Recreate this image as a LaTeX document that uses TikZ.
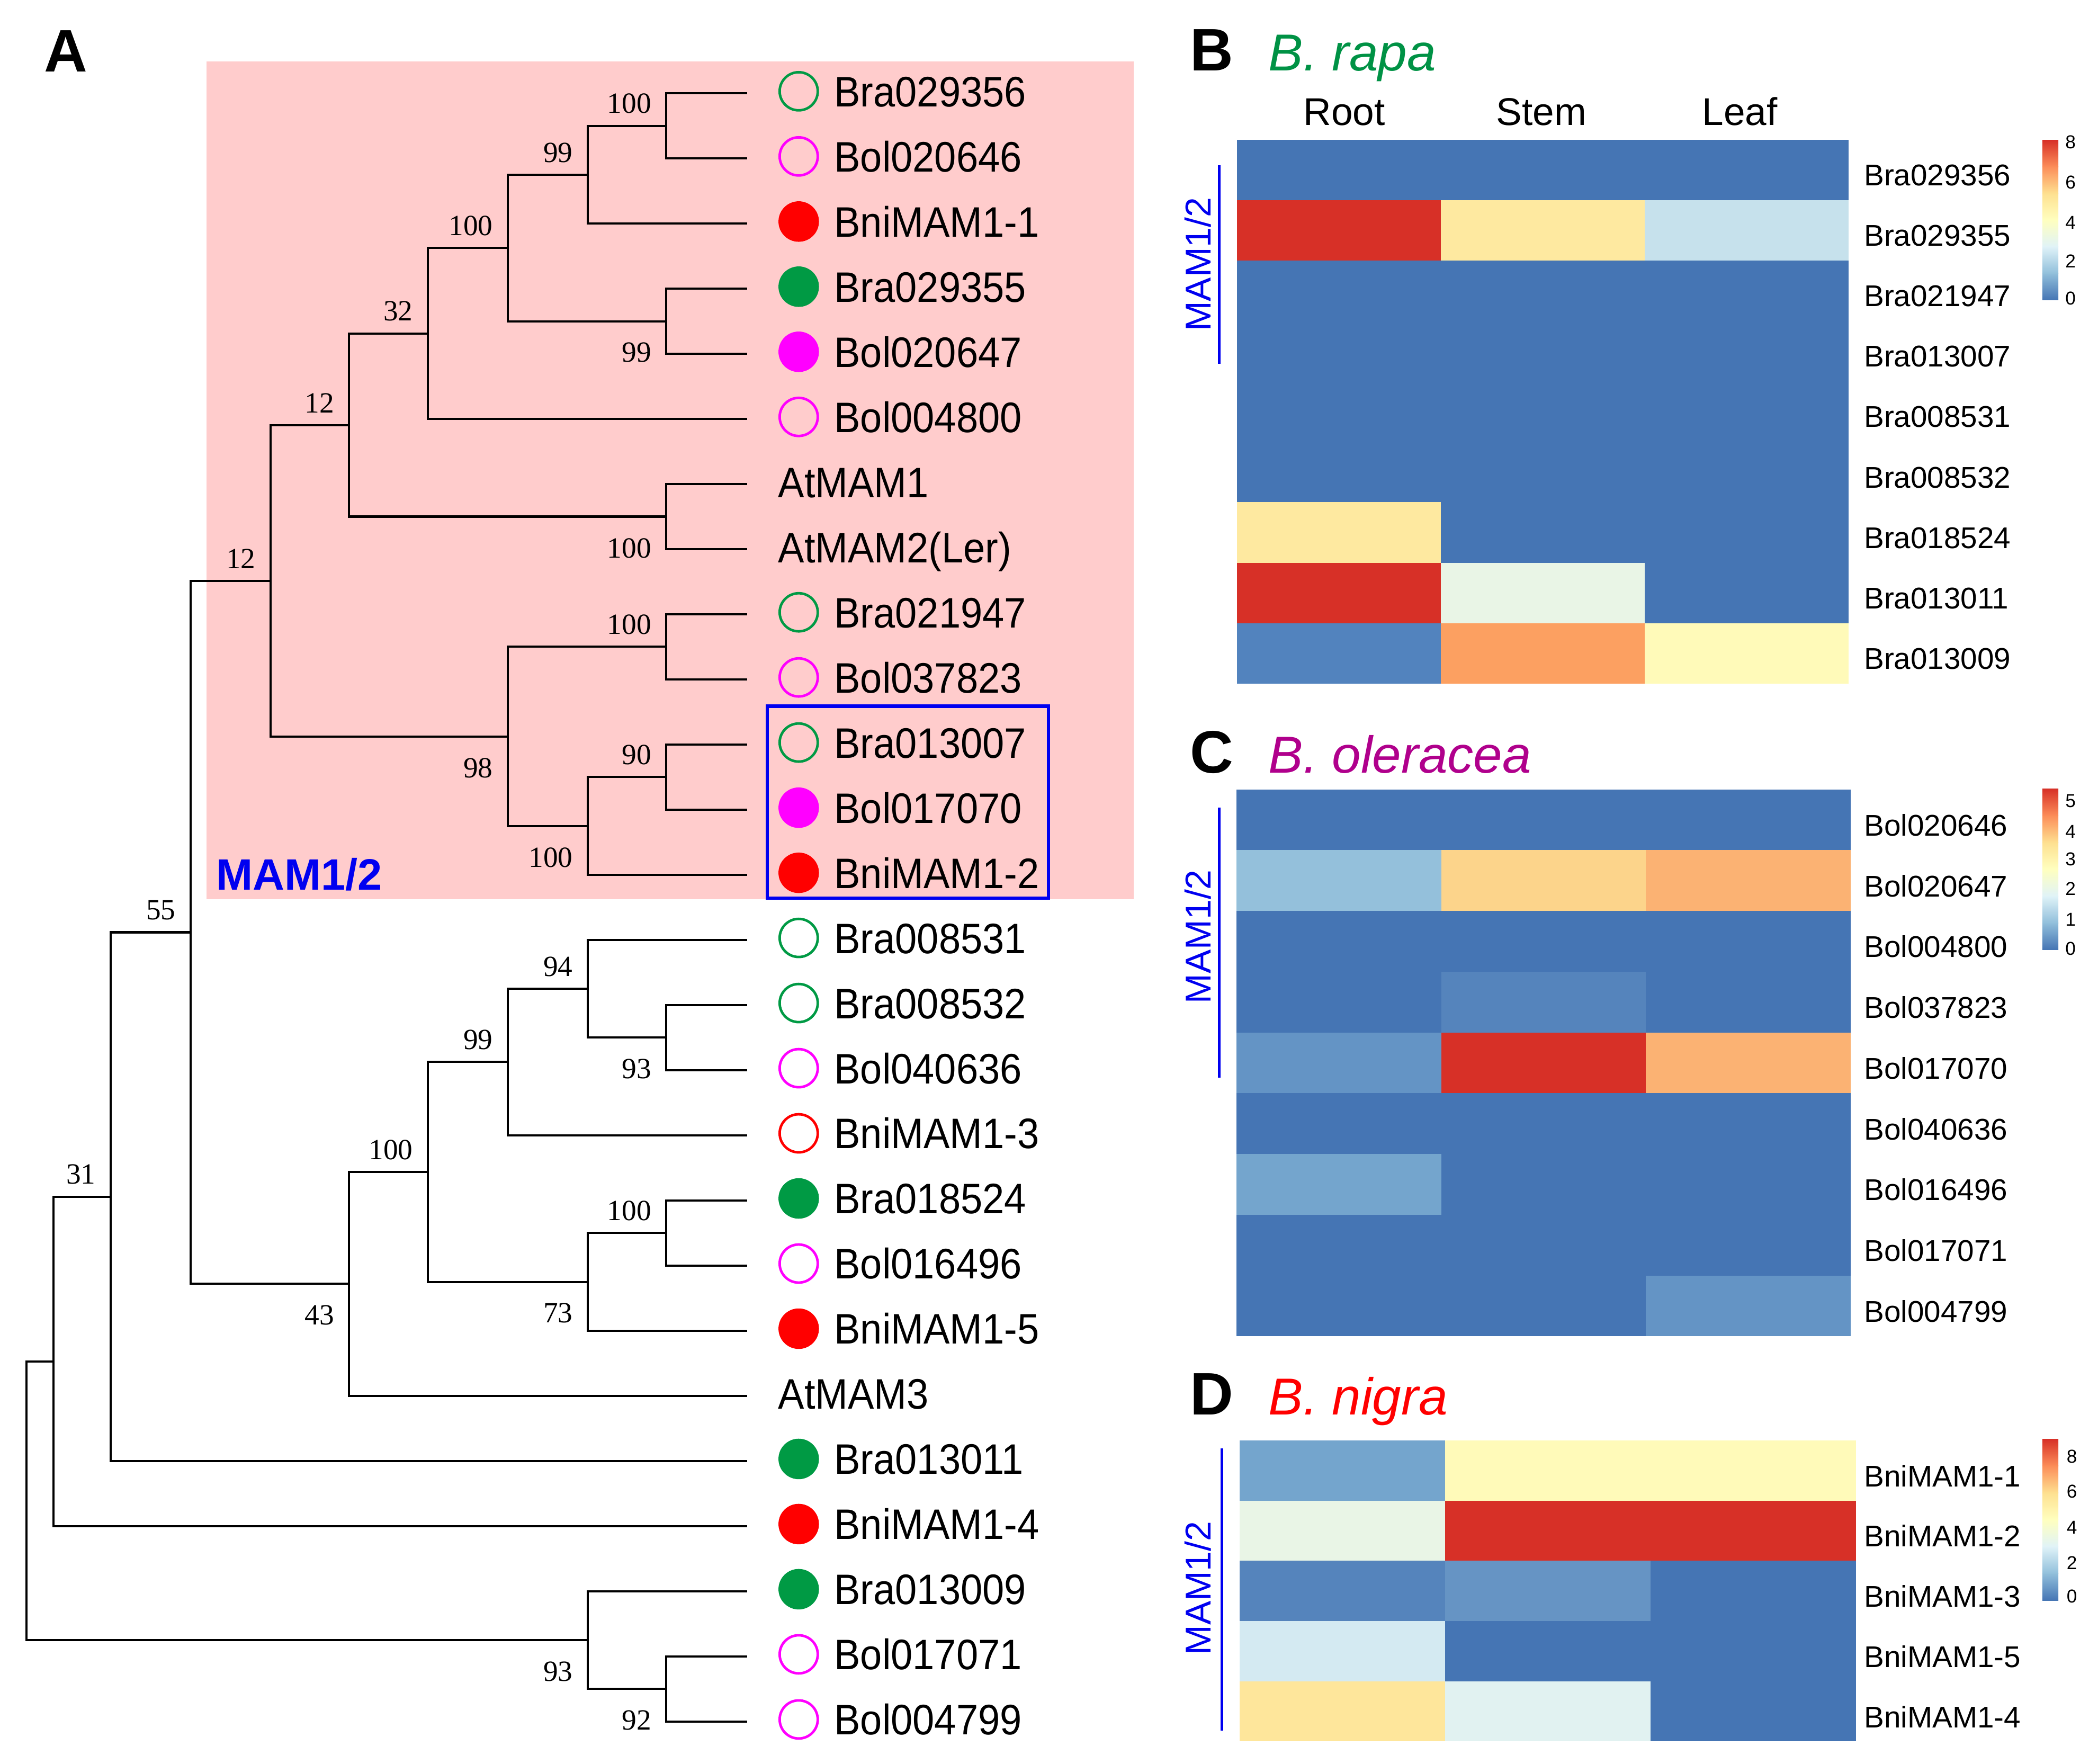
\documentclass[tikz,border=0pt]{standalone}
\usepackage{fontspec}
\setmainfont{Liberation Sans}
\newfontfamily\leaffont[FakeStretch=0.92]{Liberation Sans}
\newfontfamily\bootfont{Liberation Serif}
\usetikzlibrary{positioning}

% tree and marker colours
\definecolor{cgreen}{HTML}{009A44}
\definecolor{cmag}{HTML}{FF00FF}
\definecolor{cred}{HTML}{FF0000}
\definecolor{cblue}{HTML}{0000F0}
\definecolor{cpink}{HTML}{FFCCCC}
\definecolor{spgreen}{HTML}{009245}
\definecolor{spmag}{HTML}{B0008C}
% heatmap colours
\definecolor{hb}{HTML}{4575B4}
\definecolor{hred}{HTML}{D73027}
\definecolor{bb2}{HTML}{FEE9A0}
\definecolor{bc2}{HTML}{C6E1EC}
\definecolor{bc8}{HTML}{E9F5E6}
\definecolor{ba9}{HTML}{5283BE}
\definecolor{bb9}{HTML}{FCA061}
\definecolor{bc9}{HTML}{FFFAB9}
\definecolor{ca2}{HTML}{94C0DB}
\definecolor{cb2}{HTML}{FCD48B}
\definecolor{cc2}{HTML}{FBB273}
\definecolor{cb4}{HTML}{5584BC}
\definecolor{ca5}{HTML}{6494C5}
\definecolor{ca7}{HTML}{74A5CD}
\definecolor{db3}{HTML}{6694C4}
\definecolor{da4}{HTML}{D4EAF2}
\definecolor{da5}{HTML}{FEE69B}
\definecolor{db5}{HTML}{E1F2F1}
% colour key
\definecolor{p0}{HTML}{4575B4}
\definecolor{p1}{HTML}{91BFDB}
\definecolor{p2}{HTML}{E0F3F8}
\definecolor{p3}{HTML}{FFFFBF}
\definecolor{p4}{HTML}{FEE090}
\definecolor{p5}{HTML}{FC8D59}
\definecolor{p6}{HTML}{D73027}

\begin{document}
\begin{tikzpicture}[
    x=1pt, y=-1pt,
    branch/.style={line width=1.6pt, line cap=rect},
    leaf/.style={inner sep=0pt, anchor=base west, font=\leaffont\fontsize{32}{36}\selectfont},
    boot/.style={inner sep=0pt, font=\bootfont\fontsize{22}{24}\selectfont},
    dot/.style={circle, inner sep=0pt},
    mkog/.style={dot, draw=cgreen, line width=1.9pt, minimum size=28.6pt},
    mkom/.style={dot, draw=cmag, line width=1.9pt, minimum size=28.6pt},
    mkor/.style={dot, draw=cred, line width=1.9pt, minimum size=28.6pt},
    mkfg/.style={dot, fill=cgreen, minimum size=30.4pt},
    mkfm/.style={dot, fill=cmag, minimum size=30.4pt},
    mkfr/.style={dot, fill=cred, minimum size=30.4pt},
    panel/.style={inner sep=0pt, anchor=base west, font=\bfseries\fontsize{45}{50}\selectfont},
    species/.style={inner sep=0pt, anchor=base west, font=\itshape\fontsize{39}{44}\selectfont},
    colhead/.style={inner sep=0pt, anchor=base, font=\fontsize{29}{32}\selectfont},
    rowlab/.style={inner sep=0pt, anchor=west, font=\fontsize{22.5}{25}\selectfont},
    grouplab/.style={inner sep=0pt, rotate=90, text=cblue, font=\fontsize{27}{30}\selectfont},
    keylab/.style={inner sep=0pt, anchor=west, font=\fontsize{14}{16}\selectfont}
]
\useasboundingbox (0,0) rectangle (1568,1323.6);

% ---------------- A: tree ----------------
\fill[cpink] (155,46) rectangle (851,675);
\node[panel] (pA) at (33,54) {A};
\node[inner sep=0pt, anchor=base west, text=cblue, font=\bfseries\fontsize{33}{36}\selectfont] (clade) at (162,668) {MAM1/2};

% leaf tips
\foreach \i in {1,...,26}
    \coordinate (t\i) at (560,{70+(\i-1)*48.88});

% internal nodes
\coordinate (cA) at (500,94.44);
\coordinate (cB) at (441,131.10);
\coordinate (cC) at (500,241.08);
\coordinate (cD) at (381,186.09);
\coordinate (cE) at (321,250.25);
\coordinate (cF) at (500,387.72);
\coordinate (cG) at (262,318.99);
\coordinate (cH) at (500,485.48);
\coordinate (cI) at (500,583.24);
\coordinate (cJ) at (441,619.90);
\coordinate (cK) at (381,552.69);
\coordinate (cL) at (203,435.84);
\coordinate (cM) at (500,778.76);
\coordinate (cN) at (441,742.10);
\coordinate (cO) at (381,797.09);
\coordinate (cP) at (500,925.40);
\coordinate (cQ) at (441,962.06);
\coordinate (cR) at (321,879.58);
\coordinate (cS) at (262,963.59);
\coordinate (cT) at (143,699.72);
\coordinate (cU) at (83,898.10);
\coordinate (cV) at (40,1021.73);
\coordinate (cW) at (500,1267.56);
\coordinate (cX) at (441,1230.90);
\coordinate (cRoot) at (20,1126.32);

% branches
\foreach \p/\c in {cA/t1, cA/t2, cB/cA, cB/t3, cC/t4, cC/t5, cD/cB, cD/cC,
                   cE/cD, cE/t6, cF/t7, cF/t8, cG/cE, cG/cF, cH/t9, cH/t10,
                   cI/t11, cI/t12, cJ/cI, cJ/t13, cK/cH, cK/cJ, cL/cG, cL/cK,
                   cM/t15, cM/t16, cN/t14, cN/cM, cO/cN, cO/t17, cP/t18, cP/t19,
                   cQ/cP, cQ/t20, cR/cO, cR/cQ, cS/cR, cS/t21, cT/cL, cT/cS,
                   cU/cT, cU/t22, cV/cU, cV/t23, cW/t25, cW/t26, cX/t24, cX/cW,
                   cRoot/cV, cRoot/cX}
    \draw[branch] (\p) |- (\c);

% bootstrap values
\foreach \n/\v in {cA/100, cB/99, cD/100, cE/32, cG/12, cL/12, cH/100, cI/90,
                   cT/55, cN/94, cO/99, cR/100, cP/100, cU/31}
    \node[boot, above left=9pt and 11pt of \n] (b\n) {\v};
\foreach \n/\v in {cC/99, cF/100, cK/98, cJ/100, cM/93, cQ/73, cS/43, cX/93, cW/92}
    \node[boot, below left=16pt and 11pt of \n] (b\n) {\v};

% leaf markers and names
\foreach \i/\g/\m in {1/Bra029356/og, 2/Bol020646/om, 3/BniMAM1-1/fr, 4/Bra029355/fg,
                      5/Bol020647/fm, 6/Bol004800/om, 9/Bra021947/og, 10/Bol037823/om,
                      11/Bra013007/og, 12/Bol017070/fm, 13/BniMAM1-2/fr, 14/Bra008531/og,
                      15/Bra008532/og, 16/Bol040636/om, 17/BniMAM1-3/or, 18/Bra018524/fg,
                      19/Bol016496/om, 20/BniMAM1-5/fr, 22/Bra013011/fg, 23/BniMAM1-4/fr,
                      24/Bra013009/fg, 25/Bol017071/om, 26/Bol004799/om} {
    \node[mk\m] (m\i) at (599.5,{70+(\i-1)*48.88-1.5}) {};
    \node[leaf] (g\i) at (626,{70+(\i-1)*48.88+10}) {\g};
}
\node[leaf] (g7) at (584,{70+6*48.88+10}) {AtMAM1};
\node[leaf] (g8) at (584,{70+7*48.88+10}) {AtMAM2(Ler)};
\node[leaf] (g21) at (584,{70+20*48.88+10}) {AtMAM3};

% boxed clade
\draw[cblue, line width=2.4pt] (576,530) rectangle (787,674);

% ---------------- B: B. rapa ----------------
\node[panel] (pB) at (893,53) {B};
\node[species, text=spgreen] (sB) at (952,53) {B. rapa};
\node[colhead] (hRoot) at (1009,94) {Root};
\node[colhead] (hStem) at (1157,94) {Stem};
\node[colhead] (hLeaf) at (1306,94) {Leaf};
\foreach \a/\b/\c/\g [count=\r from 0] in {hb/hb/hb/Bra029356, hred/bb2/bc2/Bra029355,
        hb/hb/hb/Bra021947, hb/hb/hb/Bra013007, hb/hb/hb/Bra008531, hb/hb/hb/Bra008532,
        bb2/hb/hb/Bra018524, hred/bc8/hb/Bra013011, ba9/bb9/bc9/Bra013009} {
    \fill[\a] (928.5,{105+\r*45.33}) rectangle ++(153,45.33);
    \fill[\b] (1081.5,{105+\r*45.33}) rectangle ++(153,45.33);
    \fill[\c] (1234.5,{105+\r*45.33}) rectangle ++(153,45.33);
    \node[rowlab] (rB\r) at (1399,{105+(\r+0.5)*45.33+4}) {\g};
}
\draw[cblue, line width=2pt] (915,124) -- (915,273);
\node[grouplab] (gB) at (899,198.5) {MAM1/2};
\foreach \lo/\hi [count=\k from 0] in {p0/p1, p1/p2, p2/p3, p3/p4, p4/p5, p5/p6}
    \shade[bottom color=\lo, top color=\hi] (1533,{225-\k*20+0.3}) rectangle (1545,{225-(\k+1)*20});
\foreach \v/\y in {8/106.7, 6/137, 4/167, 2/196, 0/224}
    \node[keylab] (kB\v) at (1550,\y) {\v};

% ---------------- C: B. oleracea ----------------
\node[panel] (pC) at (893,580) {C};
\node[species, text=spmag] (sC) at (952,580) {B. oleracea};
\foreach \a/\b/\c/\g [count=\r from 0] in {hb/hb/hb/Bol020646, ca2/cb2/cc2/Bol020647,
        hb/hb/hb/Bol004800, hb/cb4/hb/Bol037823, ca5/hred/cc2/Bol017070, hb/hb/hb/Bol040636,
        ca7/hb/hb/Bol016496, hb/hb/hb/Bol017071, hb/hb/ca5/Bol004799} {
    \fill[\a] (928,{592.5+\r*45.6}) rectangle ++(153.7,45.6);
    \fill[\b] (1081.7,{592.5+\r*45.6}) rectangle ++(153.7,45.6);
    \fill[\c] (1235.4,{592.5+\r*45.6}) rectangle ++(153.7,45.6);
    \node[rowlab] (rC\r) at (1399,{592.5+(\r+0.5)*45.6+4}) {\g};
}
\draw[cblue, line width=2pt] (915,606) -- (915,809);
\node[grouplab] (gC) at (899,703) {MAM1/2};
\foreach \lo/\hi [count=\k from 0] in {p0/p1, p1/p2, p2/p3, p3/p4, p4/p5, p5/p6}
    \shade[bottom color=\lo, top color=\hi] (1533,{712.6-\k*20.1+0.3}) rectangle (1545,{712.6-(\k+1)*20.1});
\foreach \v/\y in {5/601, 4/624, 3/645, 2/667, 1/690, 0/712}
    \node[keylab] (kC\v) at (1550,\y) {\v};

% ---------------- D: B. nigra ----------------
\node[panel] (pD) at (893,1062) {D};
\node[species, text=cred] (sD) at (952,1062) {B. nigra};
\foreach \a/\b/\c/\g [count=\r from 0] in {ca7/bc9/bc9/BniMAM1-1, bc8/hred/hred/BniMAM1-2,
        cb4/db3/hb/BniMAM1-3, da4/hb/hb/BniMAM1-5, da5/db5/hb/BniMAM1-4} {
    \fill[\a] (930.5,{1081+\r*45.2}) rectangle ++(154.2,45.2);
    \fill[\b] (1084.7,{1081+\r*45.2}) rectangle ++(154.2,45.2);
    \fill[\c] (1238.9,{1081+\r*45.2}) rectangle ++(154.2,45.2);
    \node[rowlab] (rD\r) at (1399,{1081+(\r+0.5)*45.2+4}) {\g};
}
\draw[cblue, line width=2pt] (917,1087) -- (917,1299);
\node[grouplab] (gD) at (899,1192) {MAM1/2};
\foreach \lo/\hi [count=\k from 0] in {p0/p1, p1/p2, p2/p3, p3/p4, p4/p5, p5/p6}
    \shade[bottom color=\lo, top color=\hi] (1533,{1201-\k*20.17+0.3}) rectangle (1545,{1201-(\k+1)*20.17});
\foreach \v/\y in {8/1093, 6/1119.5, 4/1146.6, 2/1173, 0/1198}
    \node[keylab] (kD\v) at (1551,\y) {\v};

\end{tikzpicture}
\end{document}
